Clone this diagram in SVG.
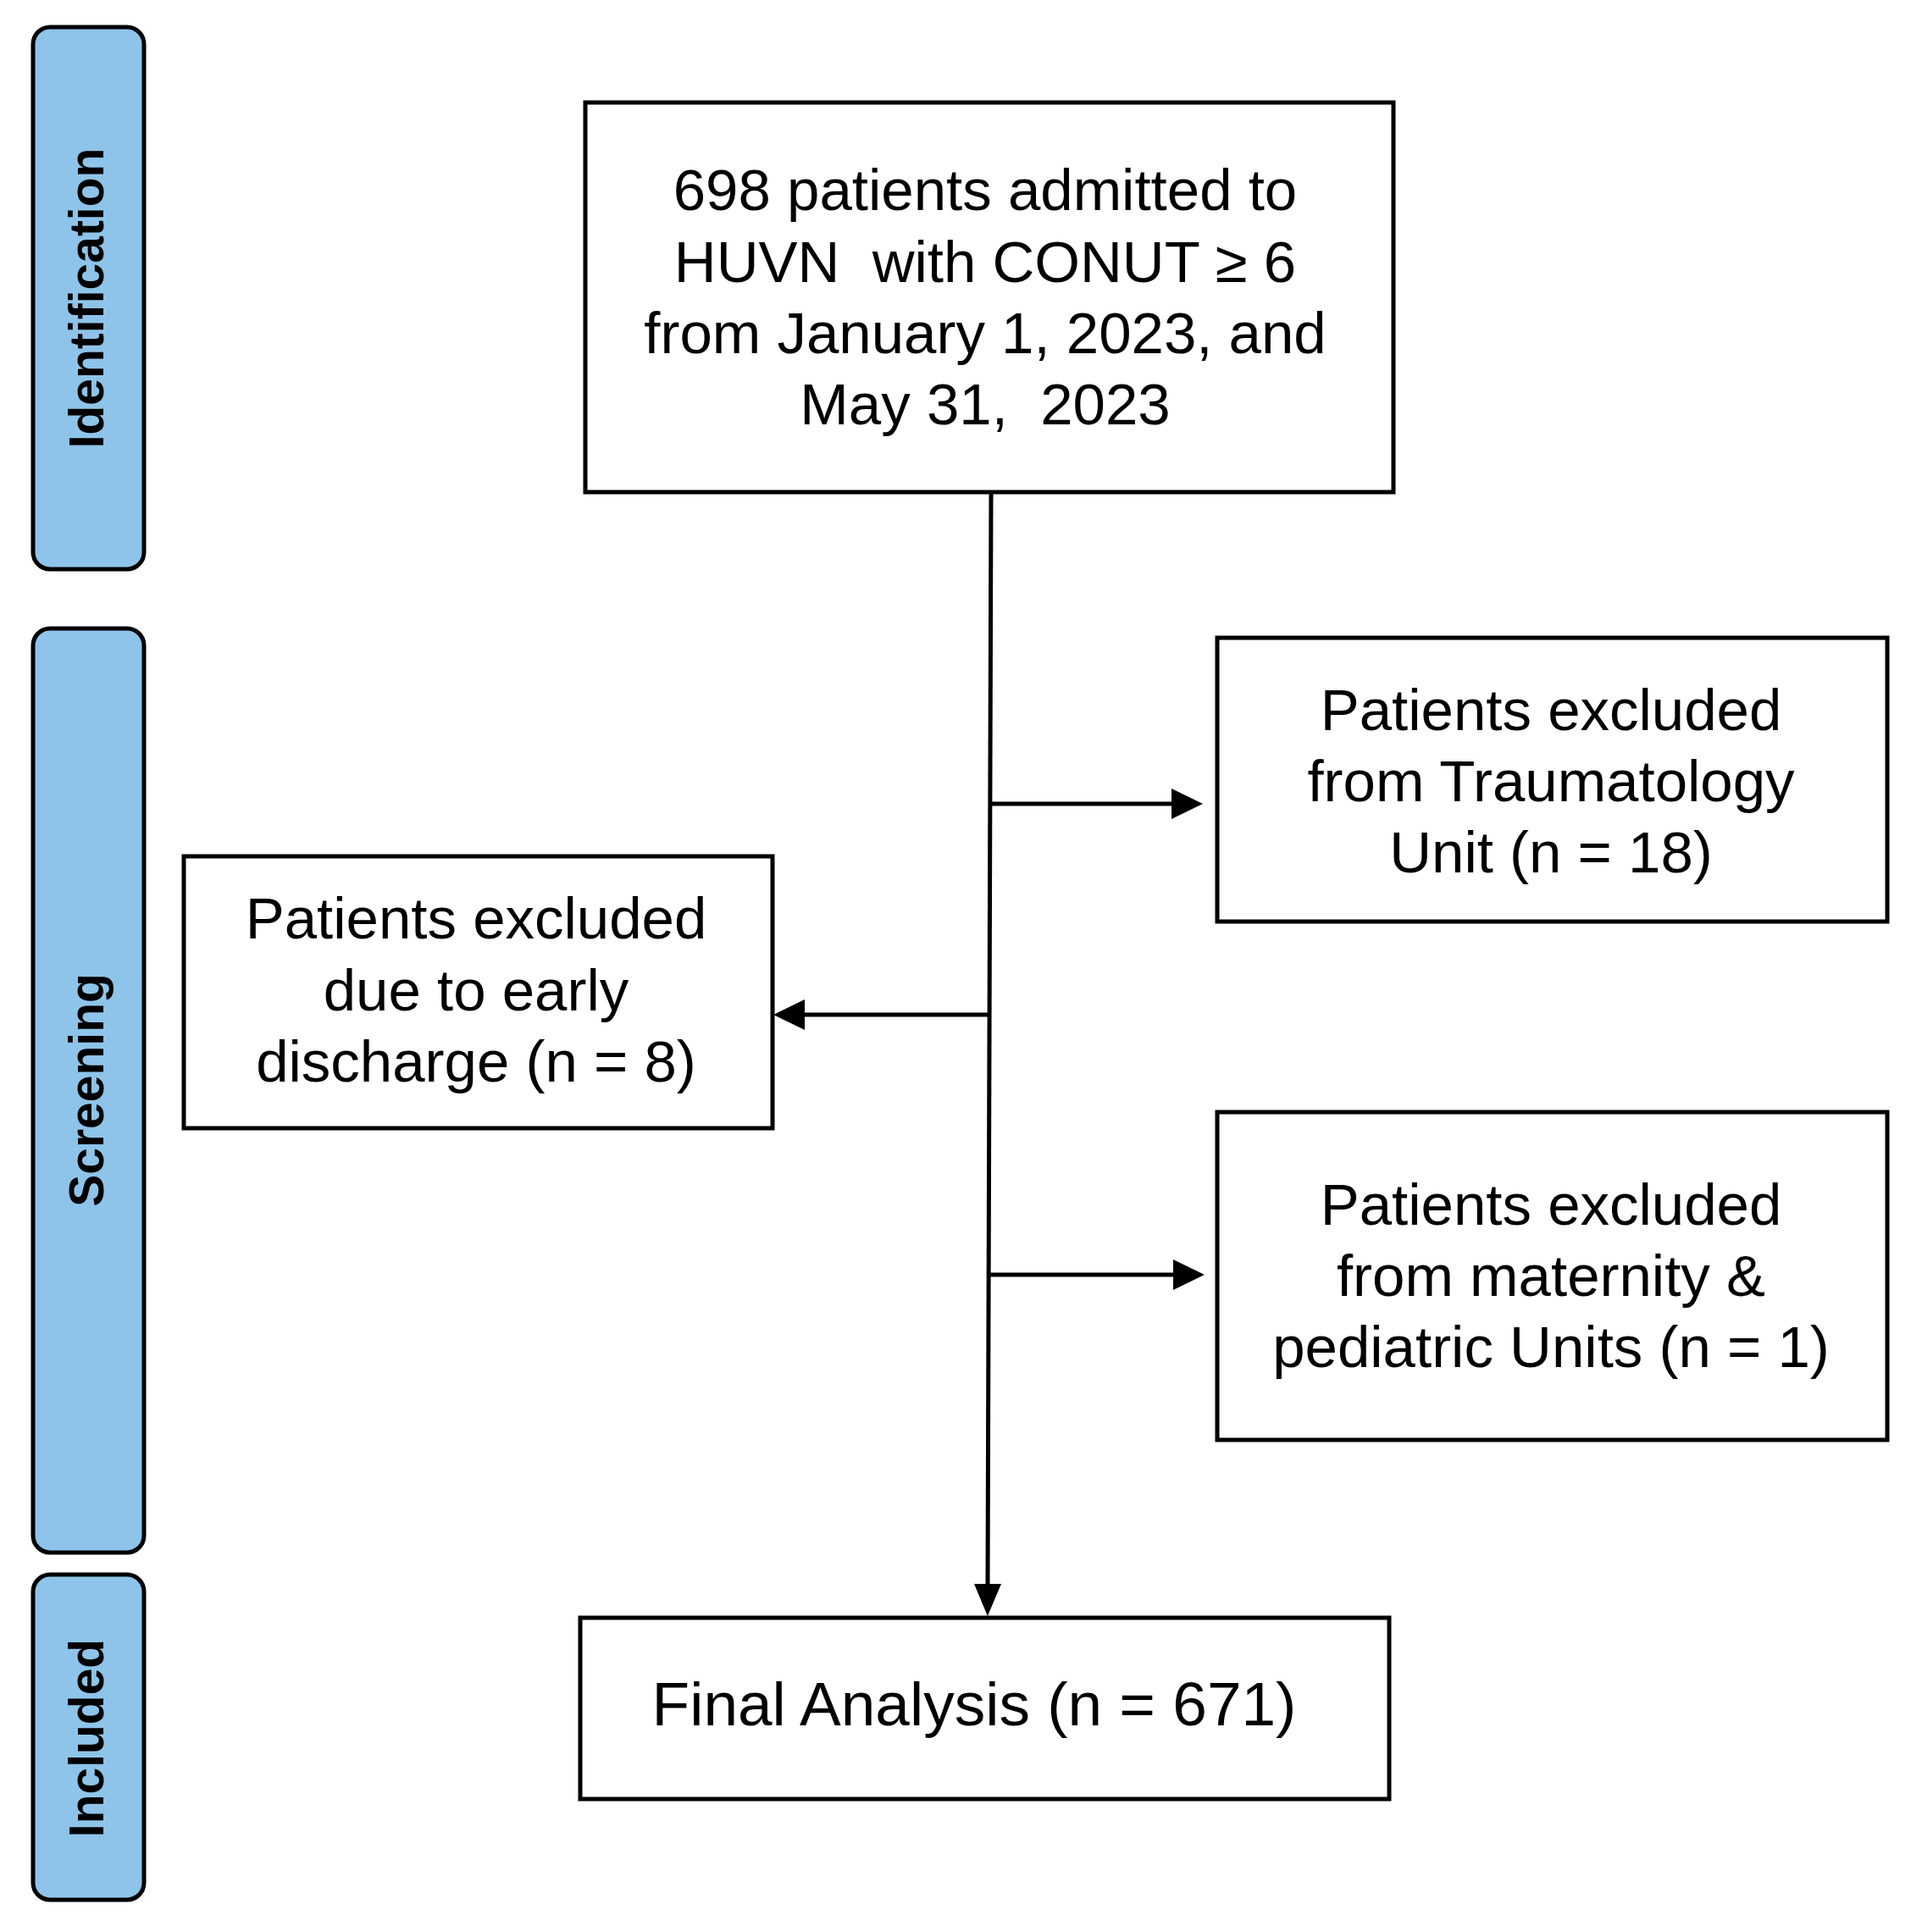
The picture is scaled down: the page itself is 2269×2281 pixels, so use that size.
<svg xmlns="http://www.w3.org/2000/svg" width="2269" height="2281" viewBox="0 0 2269 2281">
<style>
.bar{fill:#8EC4E9;stroke:#000;stroke-width:5}
.box{fill:#fff;stroke:#000;stroke-width:5}
.bt{font-family:"Liberation Sans",Arial,sans-serif;font-weight:bold;font-size:57px;fill:#000;text-anchor:middle}
.t{font-family:"Liberation Sans",Arial,sans-serif;font-size:69px;fill:#000;text-anchor:middle}
.c{fill:none;stroke:#000;stroke-width:5}
</style>
<defs>
<marker id="ah" viewBox="0 0 37 36" refX="0" refY="18" markerWidth="37" markerHeight="36" markerUnits="userSpaceOnUse" orient="auto"><path d="M0,0 L37,18 L0,36 z" fill="#000"/></marker>
<marker id="ahd" viewBox="0 0 38 32" refX="0" refY="16" markerWidth="38" markerHeight="32" markerUnits="userSpaceOnUse" orient="auto"><path d="M0,0 L38,16 L0,32 z" fill="#000"/></marker>
</defs>
<rect width="2269" height="2281" fill="#fff"/>
<g id="bar-identification"><rect class="bar" x="39" y="32" width="131" height="640" rx="20"/><text class="bt" transform="translate(122,352) rotate(-90)">Identification</text></g>
<g id="bar-screening"><rect class="bar" x="39" y="742" width="131" height="1091" rx="20"/><text class="bt" transform="translate(122,1287) rotate(-90)">Screening</text></g>
<g id="bar-included"><rect class="bar" x="39" y="1859" width="131" height="384" rx="20"/><text class="bt" transform="translate(122,2052) rotate(-90)">Included</text></g>
<g id="connectors">
<line class="c" x1="1170" y1="581" x2="1166" y2="1870" marker-end="url(#ahd)"/>
<line class="c" x1="1168" y1="949" x2="1383" y2="949" marker-end="url(#ah)"/>
<line class="c" x1="1167" y1="1198" x2="950" y2="1198" marker-end="url(#ah)"/>
<line class="c" x1="1167" y1="1505" x2="1385" y2="1505" marker-end="url(#ah)"/>
</g>
<g id="node-start"><rect class="box" x="691" y="121" width="954" height="460"/>
<text class="t" x="1163" y="248">698 patients admitted to</text>
<text class="t" x="1163" y="333" xml:space="preserve">HUVN  with CONUT ≥ 6</text>
<text class="t" x="1163" y="417">from January 1, 2023, and</text>
<text class="t" x="1163" y="501" xml:space="preserve">May 31,  2023</text></g>
<g id="node-trauma"><rect class="box" x="1437" y="753" width="791" height="335"/>
<text class="t" x="1831" y="862">Patients excluded</text>
<text class="t" x="1831" y="946">from Traumatology</text>
<text class="t" x="1831" y="1030">Unit (n = 18)</text></g>
<g id="node-early"><rect class="box" x="217" y="1011" width="695" height="321"/>
<text class="t" x="562" y="1108">Patients excluded</text>
<text class="t" x="562" y="1193">due to early</text>
<text class="t" x="562" y="1277">discharge (n = 8)</text></g>
<g id="node-maternity"><rect class="box" x="1437" y="1313" width="791" height="387"/>
<text class="t" x="1831" y="1446">Patients excluded</text>
<text class="t" x="1831" y="1530">from maternity &amp;</text>
<text class="t" x="1831" y="1614">pediatric Units (n = 1)</text></g>
<g id="node-final"><rect class="box" x="685" y="1910" width="955" height="214"/>
<text class="t" x="1150" y="2037" style="font-size:73px">Final Analysis (n = 671)</text></g>
</svg>
